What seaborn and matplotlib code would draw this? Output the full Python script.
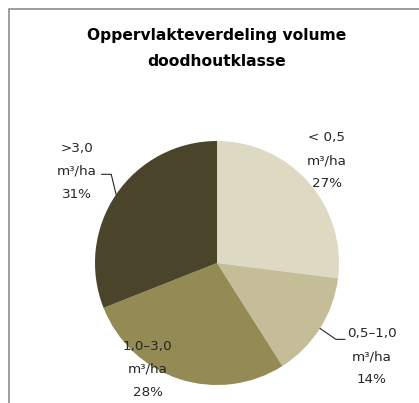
import numpy as np
import seaborn as sns
import matplotlib.pyplot as plt
from matplotlib.patches import Rectangle

# Datos
klassen = ['< 0,5', '0,5\u20131,0', '1,0\u20133,0', '>3,0']
eenheid = 'm\u00b3/ha'
aandeel = [27, 14, 28, 31]
kleuren = ['#DDD9C3', '#C4BD97', '#948A54', '#4A452A']

# posiciones de etiquetas (en radios del pastel)
label_pos = [(0.90, 0.84), (1.27, -0.77), (-0.57, -0.87), (-1.15, 0.75)]
# líneas guía: (índice, desplazamiento del codo, longitud horizontal)
guias = [(1, (0.13, -0.09), 0.075), (3, (-0.04, 0.165), -0.08)]

sns.set_theme(style='white')
plt.rcParams['font.family'] = ['DejaVu Sans']

fig = plt.figure(figsize=(4.19, 4.03), dpi=100)
fig.patches.append(Rectangle((9/419, -0.1), 1.2, 1 - 9/403 + 0.1, transform=fig.transFigure,
                             fill=False, edgecolor='#8c8c8c', linewidth=1.2, figure=fig))

cx, cy, r = 217, 263, 122
ax = fig.add_axes([(cx - r)/419, (403 - cy - r)/403, 2*r/419, 2*r/403])

wedges, _ = ax.pie(aandeel, colors=kleuren, startangle=90, counterclock=False,
                   radius=1, wedgeprops=dict(linewidth=0))
ax.set_xlim(-1, 1)
ax.set_ylim(-1, 1)
ax.set_aspect('equal')
ax.axis('off')

for i, (k, p) in enumerate(zip(klassen, aandeel)):
    x, y = label_pos[i]
    ax.text(x, y, f'{k}\n{eenheid}\n{p}%', ha='center', va='center', fontsize=9.7,
            color='#262626', linespacing=2.0, clip_on=False)

for i, (dx, dy), h in guias:
    w = wedges[i]
    mid = np.deg2rad((w.theta1 + w.theta2) / 2)
    x0, y0 = np.cos(mid) * 1.0, np.sin(mid) * 1.0
    x1, y1 = x0 + dx, y0 + dy
    ax.plot([x0, x1, x1 + h], [y0, y1, y1], color='#262626', linewidth=0.8, clip_on=False)

fig.text(217/419, 1 - 48.5/403, 'Oppervlakteverdeling volume\ndoodhoutklasse', ha='center',
         va='center', fontsize=11.2, fontweight='bold', color='#000000', linespacing=1.95)

fig.savefig('out.png', dpi=100)
